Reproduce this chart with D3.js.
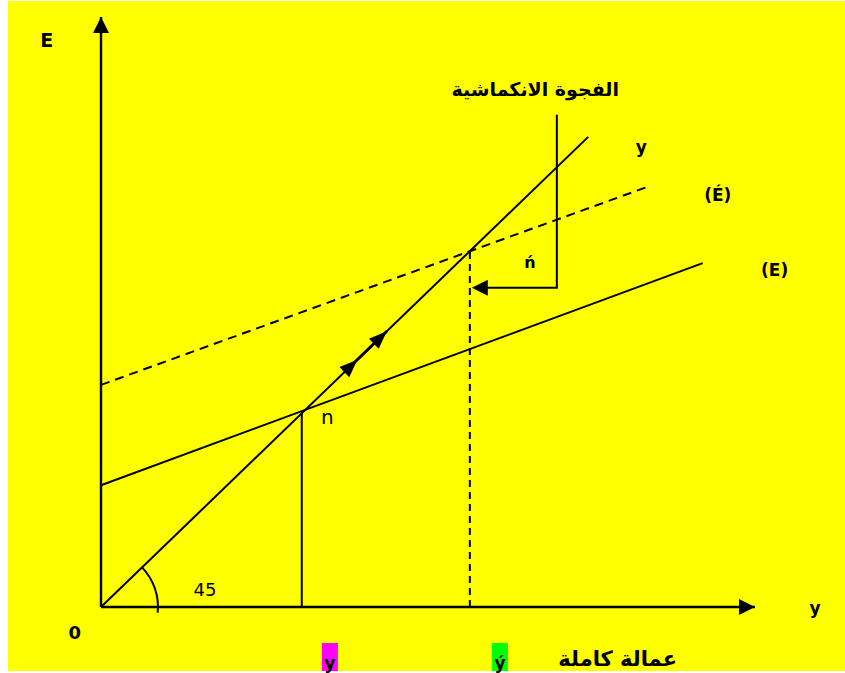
<!DOCTYPE html>
<html>
<head>
<meta charset="utf-8">
<script src="https://cdn.jsdelivr.net/npm/d3@7"></script>
<style>
  body { margin: 0; background: #fff; }
  svg { display: block; }
</style>
</head>
<body>
<div id="chart"></div>
<script>
// Diagram values, in axis units (income y on x, expenditure E on y)
var line45 = [[0, 0], [7.45, 7.45]];
var lineE = [[0, 1.93], [9.2, 5.45]];
var lineE2 = [[0, 3.52], [8.36, 6.66]];
var pointN = [3.07, 3.07];
var pointN2 = [5.64, 5.64];
var gapX = 6.97;
var gapTop = 7.8;
var gapLevel = 5.06;
var gapArrowEnd = 5.67;
var arrowMarks = [3.92, 4.37]; // arrowheads along the 45 line

var labels = [
    {text: "E", x: -0.83, y: 8.87, size: 19, bold: true},
    {text: "0", x: -0.40, y: -0.51, size: 18, bold: true},
    {text: "y", x: 10.92, y: -0.11, size: 17, bold: true},
    {text: "y", x: 8.26, y: 7.19, size: 17, bold: true},
    {text: "(É)", x: 9.43, y: 6.43, size: 17, bold: true},
    {text: "(E)", x: 10.3, y: 5.25, size: 17, bold: true},
    {text: "n", x: 3.46, y: 2.90, size: 20, bold: false},
    {text: "ń", x: 6.56, y: 5.37, size: 16, bold: true},
    {text: "45", x: 1.59, y: 0.17, size: 18, bold: false}
];
var title = {text: "الفجوة الانكماشية", x: 6.64, y: 8.1};
var bottomTags = [
    {text: "y", x: 3.5, color: "#ff00ff"},
    {text: "ý", x: 6.1, color: "#00ff00"}
];
var fullEmployment = {text: "عمالة كاملة", x: 7.9};

var width = 845, height = 673;

var svg = d3.select("#chart").append("svg")
    .attr("width", width)
    .attr("height", height);

// yellow page
svg.append("rect")
    .attr("x", 8).attr("y", 1)
    .attr("width", width - 8).attr("height", 670)
    .attr("fill", "#ffff00");

var x = d3.scaleLinear().domain([0, 10]).range([101, 755]);
var y = d3.scaleLinear().domain([0, 9.35]).range([607, 17]);

var defs = svg.append("defs");
defs.append("marker")
    .attr("id", "axisArrow")
    .attr("viewBox", "0 0 16 16")
    .attr("refX", 16).attr("refY", 8)
    .attr("markerWidth", 17).attr("markerHeight", 16)
    .attr("markerUnits", "userSpaceOnUse")
    .attr("orient", "auto")
    .append("path")
    .attr("d", "M0,0L16,8L0,16Z")
    .attr("fill", "#000");

var line = d3.line().x(d => x(d[0])).y(d => y(d[1]));

// axes
svg.append("path")
    .attr("d", line([[0, 0], [0, 9.35]]))
    .attr("stroke", "#000").attr("stroke-width", 2.4)
    .attr("marker-end", "url(#axisArrow)");
svg.append("path")
    .attr("d", line([[0, 0], [10, 0]]))
    .attr("stroke", "#000").attr("stroke-width", 2.4)
    .attr("marker-end", "url(#axisArrow)");

var g = svg.append("g")
    .attr("fill", "none")
    .attr("stroke", "#000")
    .attr("stroke-width", 2);

g.append("path").attr("d", line(line45));
g.append("path").attr("d", line(lineE));
g.append("path").attr("d", line(lineE2)).attr("stroke-dasharray", "9,6");

// drop lines
g.append("path").attr("d", line([[pointN[0], 0], pointN]));
g.append("path").attr("d", line([[pointN2[0], 0], pointN2])).attr("stroke-dasharray", "7,5");

// recessionary gap bracket
g.append("path").attr("d", line([[gapX, gapTop], [gapX, gapLevel], [gapArrowEnd + 0.2, gapLevel]]));
var tipX = x(gapArrowEnd), tipY = y(gapLevel);
svg.append("path")
    .attr("d", "M" + tipX + "," + tipY + "l16,-8l0,16Z")
    .attr("fill", "#000");

// arrows moving up the 45 line
var angle = Math.atan2(y(line45[1][1]) - y(0), x(line45[1][0]) - x(0)) * 180 / Math.PI;
g.append("path")
    .attr("d", line([[arrowMarks[0] - 0.2, arrowMarks[0] - 0.2], [arrowMarks[1], arrowMarks[1]]]))
    .attr("stroke-width", 3);
svg.selectAll("path.move")
    .data(arrowMarks)
    .enter().append("path")
    .attr("class", "move")
    .attr("d", "M0,0L-18,-7L-18,7Z")
    .attr("fill", "#000")
    .attr("transform", d => "translate(" + x(d) + "," + y(d) + ") rotate(" + angle + ")");

// 45 degree arc
var r = 57;
var arc = d3.arc()
    .innerRadius(r).outerRadius(r)
    .startAngle(Math.PI / 2 + 0.1)
    .endAngle(Math.PI / 2 - 0.78);
g.append("path")
    .attr("d", arc())
    .attr("transform", "translate(" + x(0) + "," + y(0) + ")");

// labels
svg.selectAll("text.lab")
    .data(labels)
    .enter().append("text")
    .attr("class", "lab")
    .attr("x", d => x(d.x))
    .attr("y", d => y(d.y))
    .attr("text-anchor", "middle")
    .attr("font-family", "'DejaVu Sans', sans-serif")
    .attr("font-size", d => d.size)
    .attr("font-weight", d => d.bold ? "bold" : "normal")
    .text(d => d.text);

svg.append("text")
    .attr("x", x(title.x))
    .attr("y", y(title.y))
    .attr("text-anchor", "middle")
    .attr("font-family", "'DejaVu Sans', sans-serif")
    .attr("font-size", 19)
    .attr("font-weight", "bold")
    .text(title.text);

// tags under the axis
var tags = svg.selectAll("g.tag")
    .data(bottomTags)
    .enter().append("g")
    .attr("class", "tag")
    .attr("transform", d => "translate(" + x(d.x) + ",643)");
tags.append("rect")
    .attr("x", -8).attr("y", 0)
    .attr("width", 16).attr("height", 28)
    .attr("fill", d => d.color);
tags.append("text")
    .attr("y", 26)
    .attr("text-anchor", "middle")
    .attr("font-family", "'DejaVu Sans', sans-serif")
    .attr("font-size", 17)
    .attr("font-weight", "bold")
    .text(d => d.text);

svg.append("text")
    .attr("x", x(fullEmployment.x))
    .attr("y", 666)
    .attr("text-anchor", "middle")
    .attr("font-family", "'DejaVu Sans', sans-serif")
    .attr("font-size", 21)
    .attr("font-weight", "bold")
    .text(fullEmployment.text);
</script>
</body>
</html>
